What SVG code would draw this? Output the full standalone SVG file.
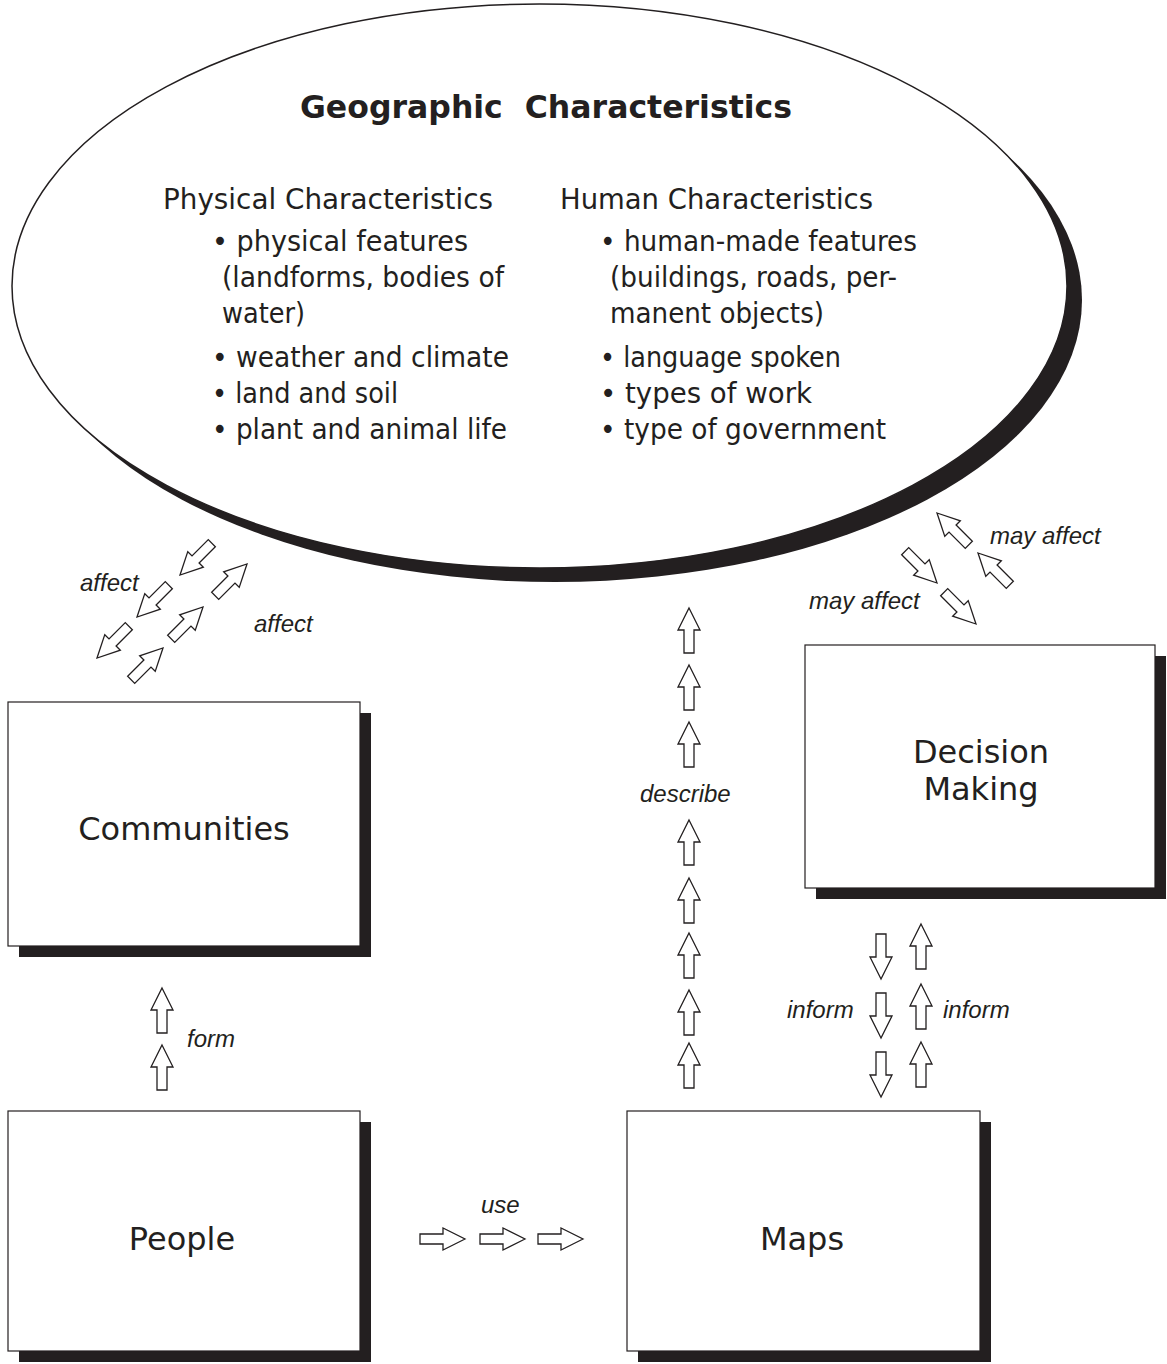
<svg xmlns="http://www.w3.org/2000/svg" xmlns:xlink="http://www.w3.org/1999/xlink" width="1167" height="1364" viewBox="0 0 1167 1364">
<style>
.shadow{fill:#231f20;}
.box{fill:#fff;stroke:#231f20;stroke-width:1.2;}
.ell{fill:#fff;stroke:#231f20;stroke-width:1.5;}
.title{font-family:"Comic Sans MS","DejaVu Sans Condensed","DejaVu Sans",sans-serif;font-weight:bold;font-size:32px;fill:#231f20;}
.et{font-family:"Comic Sans MS","DejaVu Sans Condensed","DejaVu Sans",sans-serif;font-size:29px;fill:#231f20;}
.bt{font-family:"Comic Sans MS","DejaVu Sans",sans-serif;font-size:32px;fill:#231f20;text-anchor:middle;}
.lbl{font-family:"Liberation Sans",Arial,sans-serif;font-style:italic;font-size:24px;fill:#231f20;}
.arr{fill:#fff;stroke:#231f20;stroke-width:1.3;stroke-linejoin:miter;}
</style>
<defs>
<path id="ua" class="arr" d="M0,0 L11,22 L5,22 L5,45 L-5,45 L-5,22 L-11,22 Z"/>
</defs>
<rect width="1167" height="1364" fill="#fff"/>

<g id="geographic-characteristics">
<ellipse class="shadow" cx="554.5" cy="300" rx="527.5" ry="282"/>
<ellipse class="ell" cx="539.5" cy="286" rx="527.5" ry="282"/>
<text class="title" x="300" y="118" textLength="492" lengthAdjust="spacingAndGlyphs" xml:space="preserve">Geographic  Characteristics</text>
<text class="et" x="163" y="209" textLength="330" lengthAdjust="spacingAndGlyphs">Physical Characteristics</text>
<text class="et" x="212" y="251" textLength="256" lengthAdjust="spacingAndGlyphs">• physical features</text>
<text class="et" x="222" y="287" textLength="282" lengthAdjust="spacingAndGlyphs">(landforms, bodies of</text>
<text class="et" x="222" y="323" textLength="83" lengthAdjust="spacingAndGlyphs">water)</text>
<text class="et" x="212" y="367" textLength="297" lengthAdjust="spacingAndGlyphs">• weather and climate</text>
<text class="et" x="212" y="403" textLength="186" lengthAdjust="spacingAndGlyphs">• land and soil</text>
<text class="et" x="212" y="439" textLength="295" lengthAdjust="spacingAndGlyphs">• plant and animal life</text>
<text class="et" x="560" y="209" textLength="313" lengthAdjust="spacingAndGlyphs">Human Characteristics</text>
<text class="et" x="600" y="251" textLength="317" lengthAdjust="spacingAndGlyphs">• human-made features</text>
<text class="et" x="610" y="287" textLength="287" lengthAdjust="spacingAndGlyphs">(buildings, roads, per-</text>
<text class="et" x="610" y="323" textLength="214" lengthAdjust="spacingAndGlyphs">manent objects)</text>
<text class="et" x="600" y="367" textLength="241" lengthAdjust="spacingAndGlyphs">• language spoken</text>
<text class="et" x="600" y="403" textLength="212" lengthAdjust="spacingAndGlyphs">• types of work</text>
<text class="et" x="600" y="439" textLength="286" lengthAdjust="spacingAndGlyphs">• type of government</text>
</g>

<g id="communities">
<rect class="shadow" x="19" y="713" width="352" height="244"/>
<rect class="box" x="8" y="702" width="352" height="244"/>
<text class="bt" x="184" y="840">Communities</text>
</g>

<g id="decision-making">
<rect class="shadow" x="816" y="656" width="350" height="243"/>
<rect class="box" x="805" y="645" width="350" height="243"/>
<text class="bt" x="981" y="763">Decision</text>
<text class="bt" x="981" y="800">Making</text>
</g>

<g id="people">
<rect class="shadow" x="19" y="1122" width="352" height="240"/>
<rect class="box" x="8" y="1111" width="352" height="240"/>
<text class="bt" x="182" y="1250">People</text>
</g>

<g id="maps">
<rect class="shadow" x="638" y="1122" width="353" height="240"/>
<rect class="box" x="627" y="1111" width="353" height="240"/>
<text class="bt" x="802" y="1250">Maps</text>
</g>

<g id="connectors">
<!-- affect: communities <-> geographic characteristics -->
<use xlink:href="#ua" transform="translate(180,575) rotate(-135)"/>
<use xlink:href="#ua" transform="translate(137,617) rotate(-135)"/>
<use xlink:href="#ua" transform="translate(97,658) rotate(-135)"/>
<use xlink:href="#ua" transform="translate(247,564) rotate(45)"/>
<use xlink:href="#ua" transform="translate(203,607) rotate(45)"/>
<use xlink:href="#ua" transform="translate(163,648) rotate(45)"/>
<text class="lbl" x="80" y="591">affect</text>
<text class="lbl" x="254" y="632">affect</text>

<!-- may affect: decision making <-> geographic characteristics -->
<use xlink:href="#ua" transform="translate(937,513) rotate(-45)"/>
<use xlink:href="#ua" transform="translate(978,553) rotate(-45)"/>
<use xlink:href="#ua" transform="translate(937,583) rotate(135)"/>
<use xlink:href="#ua" transform="translate(976,624) rotate(135)"/>
<text class="lbl" x="990" y="544">may affect</text>
<text class="lbl" x="809" y="609">may affect</text>

<!-- describe: maps -> geographic characteristics -->
<use xlink:href="#ua" transform="translate(689,608)"/>
<use xlink:href="#ua" transform="translate(689,665)"/>
<use xlink:href="#ua" transform="translate(689,722)"/>
<use xlink:href="#ua" transform="translate(689,820)"/>
<use xlink:href="#ua" transform="translate(689,878)"/>
<use xlink:href="#ua" transform="translate(689,933)"/>
<use xlink:href="#ua" transform="translate(689,990)"/>
<use xlink:href="#ua" transform="translate(689,1043)"/>
<text class="lbl" x="640" y="802">describe</text>

<!-- inform: decision making <-> maps -->
<use xlink:href="#ua" transform="translate(881,979) rotate(180)"/>
<use xlink:href="#ua" transform="translate(881,1038) rotate(180)"/>
<use xlink:href="#ua" transform="translate(881,1097) rotate(180)"/>
<use xlink:href="#ua" transform="translate(921,924)"/>
<use xlink:href="#ua" transform="translate(921,984)"/>
<use xlink:href="#ua" transform="translate(921,1042)"/>
<text class="lbl" x="787" y="1018">inform</text>
<text class="lbl" x="943" y="1018">inform</text>

<!-- form: people -> communities -->
<use xlink:href="#ua" transform="translate(162,988)"/>
<use xlink:href="#ua" transform="translate(162,1045)"/>
<text class="lbl" x="187" y="1047">form</text>

<!-- use: people -> maps -->
<use xlink:href="#ua" transform="translate(465,1239) rotate(90)"/>
<use xlink:href="#ua" transform="translate(525,1239) rotate(90)"/>
<use xlink:href="#ua" transform="translate(583,1239) rotate(90)"/>
<text class="lbl" x="481" y="1213">use</text>
</g>
</svg>
